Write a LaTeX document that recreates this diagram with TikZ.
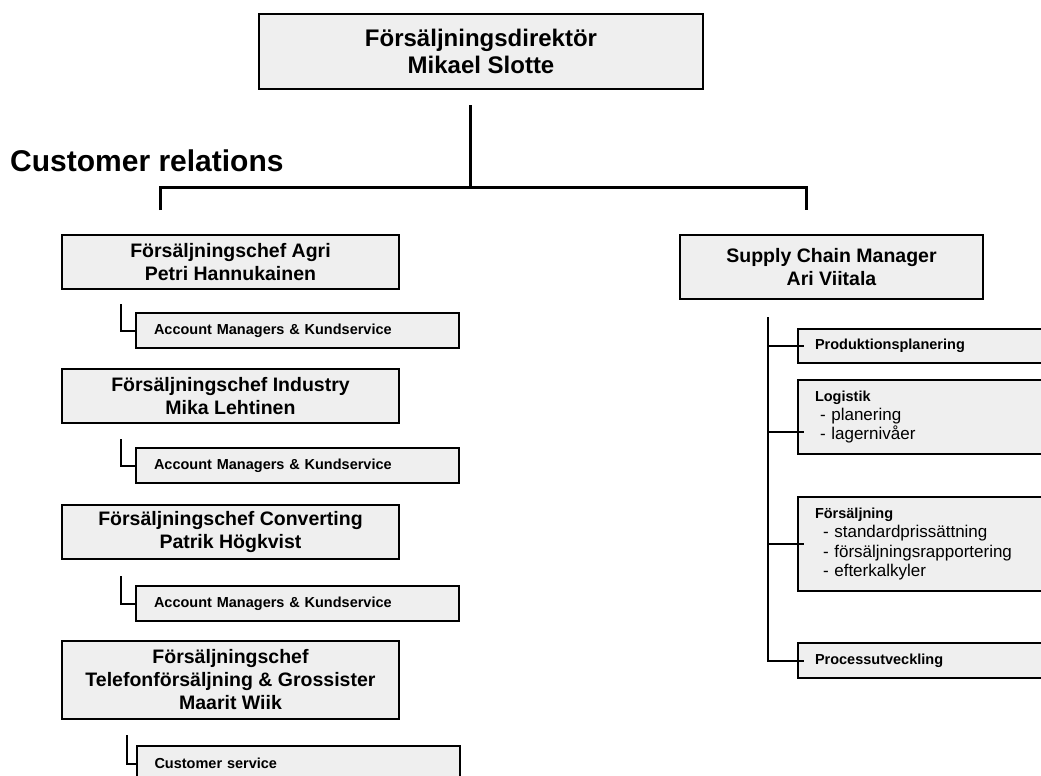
\documentclass[tikz,border=0pt]{standalone}
\usepackage{fontspec}
\setmainfont{Liberation Sans}
\definecolor{boxgray}{HTML}{EFEFEF}
\newcommand\tasktitle[1]{{\bfseries\fontsize{14.5}{19.3}\selectfont #1}}
\begin{document}
\begin{tikzpicture}[x=1pt,y=-1pt,
  box/.style={draw=black,fill=boxgray,line width=2pt,inner sep=0pt},
  chef/.style={box,minimum width=337pt,minimum height=54pt,align=center,
    font=\bfseries\fontsize{19.5}{23}\selectfont},
  team/.style={box,text width=287pt,inner xsep=18pt,minimum height=35pt,align=left,
    font=\bfseries\fontsize{14.5}{17}\selectfont},
  task/.style={box,text width=218pt,inner xsep=17pt,align=left,
    font=\fontsize{17}{19.3}\selectfont},
  link/.style={line width=2pt},
  bus/.style={line width=3pt}]
\path[clip,use as bounding box] (0,0) rectangle (1041,776);

\node[box,minimum width=444pt,minimum height=75pt,align=center,
  font=\bfseries\fontsize{24}{27.6}\selectfont] (dir) at (481,51.5)
  {Försäljningsdirektör\\Mikael Slotte};
\node[anchor=base west,inner sep=0pt,font=\bfseries\fontsize{30}{34}\selectfont]
  (cr) at (10,171) {Customer relations};

% customer relations
\node[chef] (agri) at (230.5,262) {Försäljningschef Agri\\Petri Hannukainen};
\node[team] (am1) at (297.5,330.5) {Account Managers \& Kundservice};
\node[chef] (ind) at (230.5,396) {Försäljningschef Industry\\Mika Lehtinen};
\node[team] (am2) at (297.5,465.5) {Account Managers \& Kundservice};
\node[chef] (conv) at (230.5,532) {Försäljningschef Converting\\Patrik Högkvist};
\node[team] (am3) at (297.5,603.5) {Account Managers \& Kundservice};
\node[chef,minimum height=78pt] (tel) at (230.5,680)
  {Försäljningschef\\Telefonförsäljning \& Grossister\\Maarit Wiik};
\node[team] (cs) at (298,763.5) {Customer service};

% supply chain
\node[chef,minimum width=303pt,minimum height=64pt] (scm) at (831.5,267)
  {Supply Chain Manager\\Ari Viitala};
\node[task,minimum height=34pt] (prod) at (924,346) {\tasktitle{Produktionsplanering}};
\node[task,minimum height=74pt] (log) at (924,417)
  {\tasktitle{Logistik}\\\hspace*{5pt}- planering\\\hspace*{5pt}- lagernivåer};
\node[task,minimum height=94pt] (fors) at (924,544)
  {\tasktitle{Försäljning}\\\hspace*{8pt}- standardprissättning\\
   \hspace*{8pt}- försäljningsrapportering\\\hspace*{8pt}- efterkalkyler};
\node[task,minimum height=35pt] (proc) at (924,660.5) {\tasktitle{Processutveckling}};

\coordinate (top) at (470,105);
\coordinate (hub) at (470,187);
\coordinate (crl) at (160,210);
\coordinate (scl) at (806,210);
\coordinate (trunk) at (768,317);
\path ([yshift=-15pt]log.west) coordinate (logw);

\draw[bus] (top) -- (hub);
\draw[bus] (crl) |- (hub) -| (scl);

\draw[link] ([shift={(-14,-8)}]am1.north west) |- (am1.west);
\draw[link] ([shift={(-14,-8)}]am2.north west) |- (am2.west);
\draw[link] ([shift={(-14,-9)}]am3.north west) |- (am3.west);
\draw[link] ([shift={(-9,-10)}]cs.north west) |- (cs.west);

\draw[link] (trunk) |- ([xshift=7pt]proc.west);
\draw[link] (trunk |- prod.west) -- ([xshift=7pt]prod.west);
\draw[link] (trunk |- logw) -- ([xshift=7pt]logw);
\draw[link] (trunk |- fors.west) -- ([xshift=7pt]fors.west);
\end{tikzpicture}
\end{document}
